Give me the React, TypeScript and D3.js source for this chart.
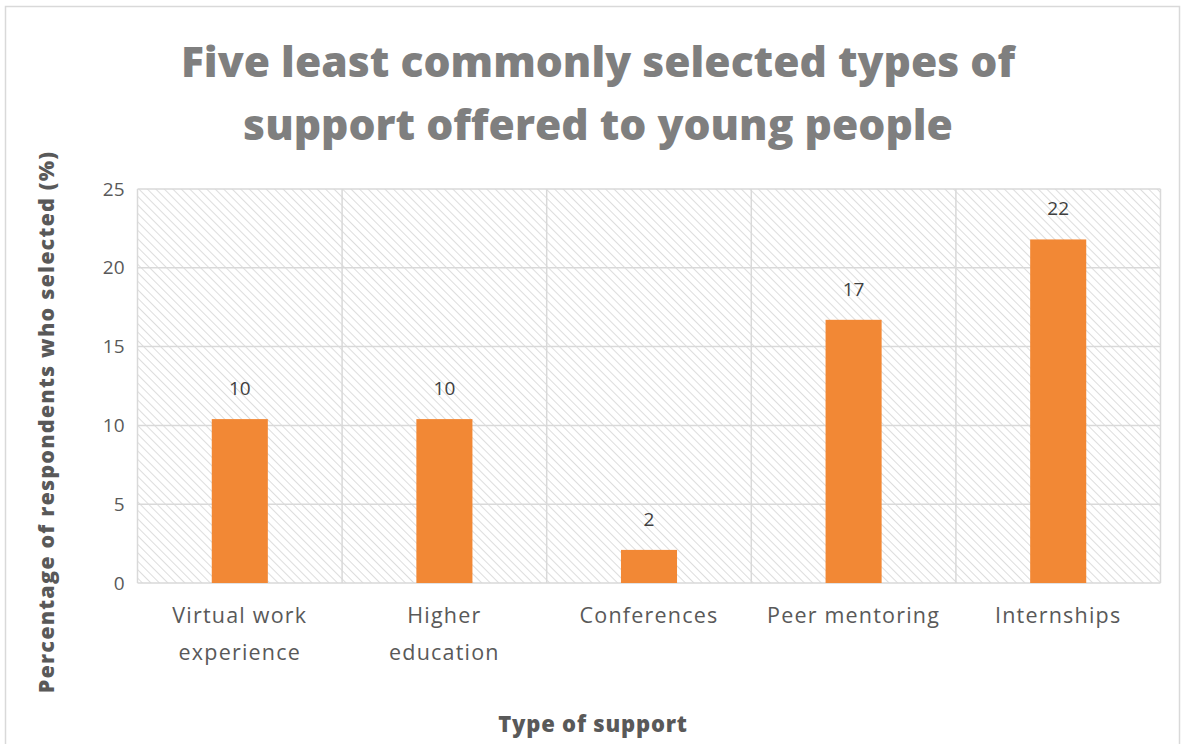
import React from "react";
import * as d3 from "d3";

const categories: string[][] = [
  ["Virtual work", "experience"],
  ["Higher", "education"],
  ["Conferences"],
  ["Peer mentoring"],
  ["Internships"],
];
const values: number[] = [10.4, 10.4, 2.1, 16.7, 21.8];
const dataLabels: string[] = ["10", "10", "2", "17", "22"];
const yTicks: number[] = [0, 5, 10, 15, 20, 25];
const titleLines: string[] = ["Five least commonly selected types of", "support offered to young people"];

const W = 1186;
const H = 744;
const plot = { left: 137.5, right: 1160.5, top: 189, bottom: 583 };

export default function App() {
  const x = d3
    .scaleBand<number>()
    .domain(values.map((_, i) => i))
    .range([plot.left, plot.right])
    .paddingInner(0)
    .paddingOuter(0);
  const y = d3.scaleLinear().domain([0, 25]).range([plot.bottom, plot.top]);
  const barW = x.bandwidth() * 0.274;
  const font = "'Open Sans', 'DejaVu Sans', sans-serif";

  return (
    <svg width={W} height={H} style={{ position: "absolute", left: 0, top: 0 }}>
      <defs>
        <pattern id="hatch" patternUnits="userSpaceOnUse" width="6" height="6" patternTransform="rotate(-45)">
          <rect width="6" height="6" fill="#ffffff" />
          <line x1="0" y1="0" x2="0" y2="6" stroke="#d9d9d9" strokeWidth="1.8" />
        </pattern>
      </defs>
      <rect x={0} y={0} width={W} height={H} fill="#fff" />
      <rect x={5.5} y={6.5} width={1174} height={760} fill="#fff" stroke="#d9d9d9" strokeWidth={1.5} />
      {titleLines.map((t, i) => (
        <text
          key={i}
          x={598}
          y={77 + i * 63}
          textAnchor="middle"
          fontFamily={font}
          fontWeight={800}
          fontSize={42.6}
          fill="#7f7f7f"
        >
          {t}
        </text>
      ))}
      <rect
        x={plot.left}
        y={plot.top}
        width={plot.right - plot.left}
        height={plot.bottom - plot.top}
        fill="url(#hatch)"
      />
      {yTicks.map((t) => (
        <g key={t}>
          <line x1={plot.left} x2={plot.right} y1={y(t)} y2={y(t)} stroke="#d9d9d9" strokeWidth={1.5} />
          <text
            x={plot.left - 13}
            y={y(t)}
            dy="0.35em"
            textAnchor="end"
            fontFamily={font}
            fontSize={19}
            fill="#595959"
          >
            {t}
          </text>
        </g>
      ))}
      {values.map((_, i) => (
        <line
          key={"v" + i}
          x1={(x(i) as number)}
          x2={(x(i) as number)}
          y1={plot.top}
          y2={plot.bottom}
          stroke="#d9d9d9"
          strokeWidth={1.5}
        />
      ))}
      <line x1={plot.right} x2={plot.right} y1={plot.top} y2={plot.bottom} stroke="#d9d9d9" strokeWidth={1.5} />
      {values.map((v, i) => {
        const cx = (x(i) as number) + x.bandwidth() / 2;
        return (
          <g key={"b" + i}>
            <rect x={cx - barW / 2} y={y(v)} width={barW} height={y(0) - y(v)} fill="#f28835" />
            <text
              x={cx}
              y={y(v) - 24}
              textAnchor="middle"
              fontFamily={font}
              fontSize={19}
              fill="#404040"
            >
              {dataLabels[i]}
            </text>
            {categories[i].map((line, j) => (
              <text
                key={j}
                x={cx}
                y={623 + j * 37}
                textAnchor="middle"
                fontFamily={font}
                fontSize={21.5}
                letterSpacing={1.2}
                fill="#595959"
              >
                {line}
              </text>
            ))}
          </g>
        );
      })}
      <text
        transform={`translate(54, 422) rotate(-90)`}
        textAnchor="middle"
        fontFamily={font}
        fontWeight={800}
        fontSize={21.5}
        letterSpacing={1.2}
        fill="#595959"
      >
        Percentage of respondents who selected (%)
      </text>
      <text
        x={593}
        y={732}
        textAnchor="middle"
        fontFamily={font}
        fontWeight={800}
        fontSize={22}
        letterSpacing={0.8}
        fill="#595959"
      >
        Type of support
      </text>
    </svg>
  );
}
